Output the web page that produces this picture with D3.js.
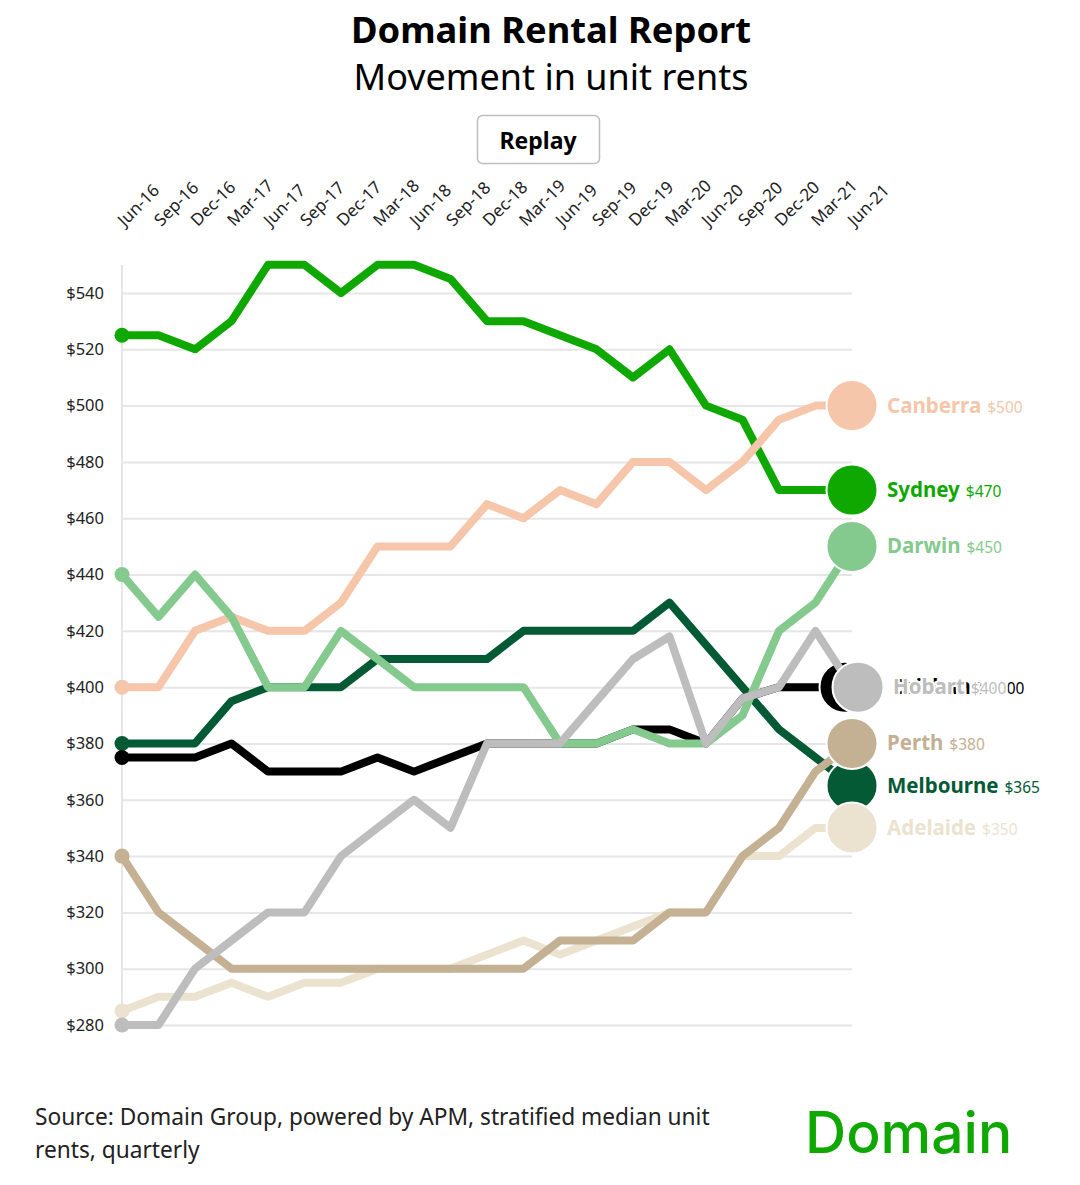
<!DOCTYPE html>
<html>
<head>
<meta charset="utf-8">
<script src="https://cdn.jsdelivr.net/npm/d3@7"></script>
<style>
  body { margin: 0; background: #fff; }
  svg { display: block; font-family: "Noto Sans", sans-serif; }
  .tick text { font-family: "Noto Sans", sans-serif; }
</style>
</head>
<body>
<div id="chart"></div>
<script>
const quarters = ["Jun-16","Sep-16","Dec-16","Mar-17","Jun-17","Sep-17","Dec-17","Mar-18","Jun-18","Sep-18","Dec-18","Mar-19","Jun-19","Sep-19","Dec-19","Mar-20","Jun-20","Sep-20","Dec-20","Mar-21","Jun-21"];
const yTicks = [280,300,320,340,360,380,400,420,440,460,480,500,520,540];

const sydney = [525,525,520,530,550,550,540,550,550,545,530,530,525,520,510,520,500,495,470,470,470];
const canberra = [400,400,420,425,420,420,430,450,450,450,465,460,470,465,480,480,470,480,495,500,500];
const melbourne = [380,380,380,395,400,400,400,410,410,410,410,420,420,420,420,430,415,400,385,375,365];
const brisbane = [375,375,375,380,370,370,370,375,370,375,380,380,380,380,385,385,380,396,400,400,400];
const darwin = [440,425,440,425,400,400,420,410,400,400,400,400,380,380,385,380,380,390,420,430,450];
const adelaide = [285,290,290,295,290,295,295,300,300,300,305,310,305,310,315,320,320,340,340,350,350];
const perth = [340,320,310,300,300,300,300,300,300,300,300,300,310,310,310,320,320,340,350,370,380];
const hobart = [280,280,300,310,320,320,340,350,360,350,380,380,380,395,410,418,380,396,400,420,400];

// draw order matters, later ones sit on top
const series = [
  { name: "Sydney", values: sydney, color: "#0ea800", dotDx: 0, labelX: 887 },
  { name: "Canberra", values: canberra, color: "#f5c6aa", dotDx: 0, labelX: 887 },
  { name: "Melbourne", values: melbourne, color: "#055a36", dotDx: 0, labelX: 887 },
  { name: "Brisbane", values: brisbane, color: "#000000", dotDx: -7, labelX: 893 },
  { name: "Darwin", values: darwin, color: "#84c98e", dotDx: 0, labelX: 887 },
  { name: "Adelaide", values: adelaide, color: "#ebe3d0", dotDx: 0, labelX: 887 },
  { name: "Perth", values: perth, color: "#c4b093", dotDx: 0, labelX: 887 },
  { name: "Hobart", values: hobart, color: "#bdbdbd", dotDx: 6, labelX: 893 }
];

const width = 1080, height = 1185;
const margin = { top: 265, left: 122, right: 228, bottom: 160 };

const svg = d3.select("#chart").append("svg")
  .attr("width", width)
  .attr("height", height);

const x = d3.scalePoint()
  .domain(quarters)
  .range([margin.left, width - margin.right]);
const y = d3.scaleLinear()
  .domain([280, 540])
  .range([1025, 293]);

//Title and button
svg.append("text").attr("x", 551).attr("y", 43).attr("text-anchor", "middle")
  .style("font-size", "36.3px").style("font-weight", 700).style("fill", "#000").text("Domain Rental Report");
svg.append("text").attr("x", 551).attr("y", 90).attr("text-anchor", "middle")
  .style("font-size", "36px").style("fill", "#000").text("Movement in unit rents");
svg.append("rect").attr("x", 477.5).attr("y", 115.5).attr("width", 122).attr("height", 48).attr("rx", 5)
  .attr("fill", "#fff").attr("stroke", "#bdbdbd").attr("stroke-width", 1.5);
svg.append("text").attr("x", 538).attr("y", 149).attr("text-anchor", "middle")
  .style("font-size", "23px").style("font-weight", 700).text("Replay");

//Axes
const yAxis = svg.append("g")
  .attr("transform", `translate(${margin.left},0)`)
  .call(d3.axisLeft(y).tickValues(yTicks).tickFormat(d => "$" + d).tickSize(-(width - margin.right - margin.left)).tickPadding(18));
yAxis.select(".domain").remove();
yAxis.selectAll("line").attr("stroke", "#e6e6e6").attr("stroke-width", 2);
yAxis.selectAll("text").style("font-size", "16.5px").style("fill", "#222");
svg.append("line")
  .attr("x1", margin.left).attr("x2", margin.left).attr("y1", margin.top).attr("y2", y(280))
  .attr("stroke", "#e6e6e6").attr("stroke-width", 2);

const xAxis = svg.append("g")
  .attr("transform", "translate(-2,223)")
  .call(d3.axisTop(x).tickSize(0));
xAxis.select(".domain").remove();
xAxis.selectAll("text")
  .style("font-size", "17px").style("fill", "#222")
  .style("text-anchor", "start")
  .attr("x", 0).attr("y", 0).attr("dy", "0.35em")
  .attr("transform", "rotate(-45)");

//Lines, dots and end labels
const line = d3.line().x((d, i) => x(quarters[i])).y(d => y(d));
series.forEach(s => {
  const last = s.values[s.values.length - 1];
  const g = svg.append("g");
  g.append("path").attr("d", line(s.values))
    .attr("fill", "none").attr("stroke", s.color).attr("stroke-width", 8).attr("stroke-linejoin", "round");
  g.append("circle").attr("cx", x(quarters[0])).attr("cy", y(s.values[0])).attr("r", 7.5).attr("fill", s.color);
  g.append("circle").attr("cx", x(quarters[20]) + s.dotDx).attr("cy", y(last)).attr("r", 25.5)
    .attr("fill", s.color).attr("stroke", "#fff").attr("stroke-width", 2);
  //white halo, it hides whatever label sits underneath
  const label = g.append("text").attr("x", s.labelX).attr("y", y(last) + 7).style("fill", s.color)
    .style("stroke", "#fff").style("stroke-width", 4).style("paint-order", "stroke");
  label.append("tspan").style("font-size", "20.5px").style("font-weight", 700).text(s.name);
  label.append("tspan").attr("dx", 6).style("font-size", "15.5px").text("$" + last);
});

//Footer
const source = svg.append("text").style("font-size", "22.7px").style("fill", "#222");
source.append("tspan").attr("x", 35).attr("y", 1125).text("Source: Domain Group, powered by APM, stratified median unit");
source.append("tspan").attr("x", 35).attr("y", 1158).text("rents, quarterly");
svg.append("text").attr("x", 805).attr("y", 1153).style("font-family", "Inter, sans-serif")
  .style("font-size", "57px").style("font-weight", 500).style("fill", "#0ea800").text("Domain");
</script>
</body>
</html>
